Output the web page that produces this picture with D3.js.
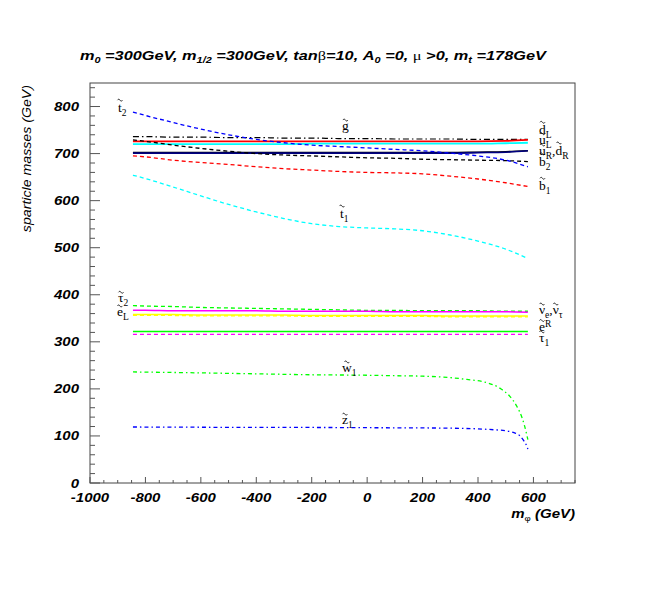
<!DOCTYPE html>
<html><head><meta charset="utf-8">
<script src="https://cdn.jsdelivr.net/npm/d3@7"></script>
<style>
body{margin:0;background:#fff;}
svg{display:block;}
.tick-label{font-family:"Liberation Sans",Arial,sans-serif;font-weight:bold;font-style:italic;font-size:12.5px;}
.lbl{font-family:"Liberation Serif","Times New Roman",serif;fill:#000;}
</style></head>
<body>
<script>
// ---- data ----
const mphi = [-845,-800,-700,-600,-500,-400,-300,-200,-100,0,100,200,300,400,500,580];
const stop2   = [788,781,766,752,740,730,723,718,715,712,709,706,701,695,686,672];
const sbot2   = [729,726,718,711,705,700,697,695,693,691,690,688,687,686,685,683];
const sbot1   = [695,693,686,681,677,672,668,665,662,660,659,657,652,646,638,630];
const stop1   = [654,647,629,610,592,576,562,551,545,542,540,536,527,514,497,477];
const gluino  = [736,736,735,735,734,734,733,733,732,732,731,731,731,730,730,730];
const sdownL  = [726,726,726,726,726,726,726,726,726,726,726,726,726,726,727,729];
const supL    = [720,720,720,720,720,720,720,721,721,721,721,721,721,721,722,723];
const supR    = [701,701,701,701,701,701,701,701,701,701,701,701,701,702,703,706];
const sdownR  = [702,702,702,702,702,702,702,702,702,702,702,702,702,703,704,706];
const stau2   = [377,376,375,373,372,371,370,369,368,367,367,366,366,366,365,365];
const selL    = [367,367,366,366,366,366,365,365,365,365,364,364,364,364,364,363];
const snue    = [358,358,358,357,357,357,357,356,356,356,356,356,355,355,355,355];
const snutau  = [356,356,356,355,355,355,355,354,354,354,354,354,353,353,353,353];
const selR    = [322,322,322,322,322,322,322,322,322,322,322,322,322,322,322,322];
const stau1   = [316,316,316,316,316,316,316,316,316,316,316,316,316,316,316,316];
const winoX   = [-845,-600,-400,-200,0,100,200,300,360,420,480,515,540,560,575,580];
const wino1   = [236,234,232,230,229,228,227,224,220,215,201,184,163,137,105,92];
const zinoX   = [-845,-600,-400,-200,0,200,300,400,460,500,530,550,565,575,580];
const zino1   = [119,118.5,118,118,117.5,117,116.5,115,113,111,107,101,90,80,72];

const xTicks = [-1000,-800,-600,-400,-200,0,200,400,600];
const yTicks = [0,100,200,300,400,500,600,700,800];

const series = [
  {x:mphi, y:gluino, color:"#000000", dash:"6,3,1.5,3", w:1.2},
  {x:mphi, y:sdownL, color:"#ff0000", dash:null, w:1.8},
  {x:mphi, y:supL,   color:"#00ffff", dash:null, w:1.8},
  {x:mphi, y:sdownR, color:"#000000", dash:null, w:1.6},
  {x:mphi, y:supR,   color:"#000080", dash:null, w:1.6},
  {x:mphi, y:sbot2,  color:"#000000", dash:"4,3", w:1.3},
  {x:mphi, y:stop2,  color:"#0000ff", dash:"4,3", w:1.3},
  {x:mphi, y:sbot1,  color:"#ff0000", dash:"4,3", w:1.3},
  {x:mphi, y:stop1,  color:"#00ffff", dash:"4,3", w:1.3},
  {x:mphi, y:stau2,  color:"#00ff00", dash:"4,3", w:1.3},
  {x:mphi, y:selL,   color:"#ff00ff", dash:null, w:1.6},
  {x:mphi, y:snue,   color:"#ffff00", dash:null, w:1.6},
  {x:mphi, y:snutau, color:"#ffff00", dash:"4,3", w:1.3},
  {x:mphi, y:selR,   color:"#00ff00", dash:null, w:1.4},
  {x:mphi, y:stau1,  color:"#ff00ff", dash:"4,3", w:1.3},
  {x:winoX, y:wino1, color:"#00ff00", dash:"4,3,1.5,3", w:1.3},
  {x:zinoX, y:zino1, color:"#0000ff", dash:"4,3,1.5,3", w:1.3}
];

// labels: parts [text, kind] (kind: "t" = tilde over base, "sub", "sup"), position in data units
const labels = [
  {parts:[["t","t"],["2","sub"]], x:-899, y:788},
  {parts:[["g","t"]], x:-91, y:750},
  {parts:[["t","t"],["1","sub"]], x:-98, y:563},
  {parts:[["d","t"],["L","sub"]], x:620, y:741},
  {parts:[["u","t"],["L","sub"]], x:620, y:721},
  {parts:[["u","t"],["R","sub"],[","],["d","t"],["R","sub"]], x:620, y:697},
  {parts:[["b","t"],["2","sub"]], x:620, y:674},
  {parts:[["b","t"],["1","sub"]], x:620, y:622},
  {parts:[["\u03c4","t"],["2","sub"]], x:-899, y:384},
  {parts:[["e","t"],["L","sub"]], x:-903, y:355},
  {parts:[["\u03bd","t"],["e","sub"],[","],["\u03bd","t"],["\u03c4","sub"]], x:620, y:359},
  {parts:[["e","t"],["R","sup"]], x:620, y:324},
  {parts:[["\u03c4","t"],["1","sub"]], x:620, y:300},
  {parts:[["w","t"],["1","sub"]], x:-91, y:236},
  {parts:[["z","t"],["1","sub"]], x:-91, y:125}
];

// ---- drawing ----
const W = 654, H = 589;
const SX = 1.2; // horizontal stretch of axis fonts in the original
const svg = d3.select("body").append("svg").attr("width", W).attr("height", H);
const x = d3.scaleLinear().domain([-1000, 750]).range([90, 575]);
const y = d3.scaleLinear().domain([0, 850]).range([483, 83]);

// frame
svg.append("rect").attr("x", 90).attr("y", 83).attr("width", 485).attr("height", 400)
  .attr("fill", "none").attr("stroke", "#444").attr("stroke-width", 1);

// y ticks (inside)
const yMinor = d3.range(0, 851, 20);
svg.append("g").selectAll("line").data(yMinor).join("line")
  .attr("x1", 90).attr("x2", d => d % 100 === 0 ? 100 : 95)
  .attr("y1", d => y(d)).attr("y2", d => y(d)).attr("stroke", "#555");
svg.append("g").selectAll("text").data(yTicks).join("text")
  .attr("class", "tick-label")
  .attr("transform", d => `translate(79,${y(d) + 4.5}) scale(${SX},1)`)
  .attr("text-anchor", "end").text(d => d);

// x ticks (inside)
const xMinor = d3.range(-1000, 751, 50);
svg.append("g").selectAll("line").data(xMinor).join("line")
  .attr("x1", d => x(d)).attr("x2", d => x(d))
  .attr("y1", 483).attr("y2", d => d % 200 === 0 ? 477 : 480).attr("stroke", "#555");
svg.append("g").selectAll("text").data(xTicks).join("text")
  .attr("class", "tick-label")
  .attr("transform", d => `translate(${x(d)},502) scale(${SX},1)`)
  .attr("text-anchor", "middle").text(d => d);

// axis titles
const xt = svg.append("text").attr("class", "tick-label")
  .attr("transform", `translate(575,518) scale(${SX},1)`).attr("text-anchor", "end");
xt.append("tspan").text("m");
xt.append("tspan").attr("font-size", 8).attr("dy", 3).attr("font-style","normal").attr("font-weight","normal").text("\u03c6");
xt.append("tspan").attr("dy", -3).text(" (GeV)");

svg.append("text").attr("transform", "translate(31,85) rotate(-90) scale(1.05,1)")
  .attr("text-anchor", "end")
  .style("font-family", "'Liberation Sans',Arial,sans-serif").style("font-style", "italic")
  .style("font-size", "13.5px").text("sparticle masses (GeV)");

// title
const tt = svg.append("text").attr("transform", "translate(80,60) scale(1.21,1)")
  .style("font-family", "'Liberation Sans',Arial,sans-serif").style("font-weight", "bold")
  .style("font-style", "italic").style("font-size", "13.5px");
const titleParts = [
  ["m"],["0","sub"],[" =300GeV, m"],["1/2","sub"],[" =300GeV, tan"],["\u03b2","sym"],["=10, A"],["0","sub"],
  [" =0, "],["\u03bc","sym"],[" >0, m"],["t","sub"],[" =178GeV"]
];
let shift = 0;
titleParts.forEach(([t, k]) => {
  const ts = tt.append("tspan").text(t);
  const want = k === "sub" ? 3 : 0;
  ts.attr("dy", want - shift); shift = want;
  if (k === "sub") ts.attr("font-size", 9);
  if (k === "sym") ts.style("font-family", "'Liberation Serif',serif").style("font-weight", "normal").style("font-style", "normal");
});

// curves
const line = d3.line().curve(d3.curveMonotoneX);
const g = svg.append("g");
series.forEach(s => {
  g.append("path")
    .attr("d", line(s.x.map((v, i) => [x(v), y(s.y[i])])))
    .attr("fill", "none").attr("stroke", s.color).attr("stroke-width", s.w)
    .attr("stroke-dasharray", s.dash);
});

// labels: one text per label, tildes drawn as small wave strokes above base letters
const tall = new Set(["t", "d", "b"]);
labels.forEach(l => {
  const lg = svg.append("g");
  const t = lg.append("text").attr("class", "lbl").attr("x", x(l.x)).attr("y", y(l.y));
  const by = y(l.y);
  let sh = 0;
  const marks = [];
  l.parts.forEach(([txt, k]) => {
    const small = k === "sub" || k === "sup";
    const want = k === "sub" ? 4 : (k === "sup" ? -4 : 0);
    const ts = t.append("tspan").attr("dy", want - sh).attr("font-size", small ? 9.5 : 13.5).text(txt);
    sh = want;
    if (k === "t") marks.push({ts, tall: tall.has(txt)});
  });
  marks.forEach(m => {
    const bb = m.ts.node().getBBox();
    const cx = bb.x + bb.width / 2, cy = by - (m.tall ? 12.5 : 10.5);
    lg.append("path")
      .attr("d", `M${cx - 2.5},${cy + 0.5} c0.8,-1.3 1.7,-1.3 2.5,0 s1.7,1.3 2.5,0`)
      .attr("fill", "none").attr("stroke", "#000").attr("stroke-width", 0.8);
  });
});
</script>
</body></html>
